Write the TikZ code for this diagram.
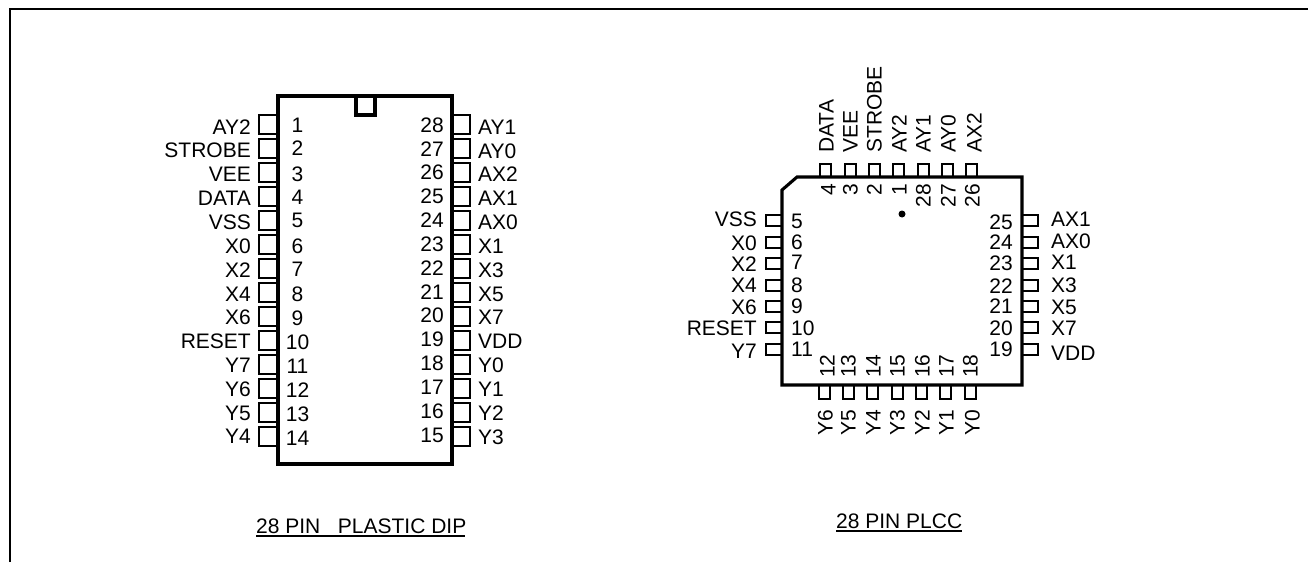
\documentclass[tikz,border=0pt]{standalone}
\usepackage{fontspec}
\setmainfont{Liberation Sans}
\tikzset{
    pkgbody/.style={line width=3.1pt, line join=miter},
    pinbox/.style={line width=2pt},
    pintext/.style={inner sep=0pt, text height=15pt, text depth=0pt, font=\fontsize{21}{23}\selectfont},
    pkgtitle/.style={pintext, anchor=base west},
}
\begin{document}
\begin{tikzpicture}[x=1pt, y=-1pt]
    \useasboundingbox (0,0) rectangle (1308,562);
    % frame
    \draw[line width=2.8pt] (10,562) -- (10,9) -- (1308,9);

    % plastic dip
    \foreach \i in {0,...,13} {
        \draw[pinbox] (259,115+24*\i) rectangle (278,134+24*\i);
        \draw[pinbox] (452,115+24*\i) rectangle (470,134+24*\i);
    }
    \draw[pkgbody] (278,96) rectangle (452,464);
    \draw[pkgbody] (356,96) -- (356,115) -- (375,115) -- (375,96);
    \foreach \y/\txt [count=\n] in {126.5/AY2, 150/STROBE, 174/VEE, 198/DATA, 222/VSS, 246/X0, 270/X2,
                                    294/X4, 317/X6, 341/RESET, 365/Y7, 389/Y6, 413/Y5, 436/Y4} {
        \node[pintext, anchor=east] (dipname\n) at (251,\y) {\txt};
    }
    \foreach \y [count=\n] in {125, 148, 174, 197, 220, 246, 269, 294, 318, 342, 366, 390, 414, 438} {
        \node[pintext] (dipnum\n) at (297.5,\y) {\n};
    }
    \foreach \y/\txt/\num in {127/AY1/28, 151/AY0/27, 174/AX2/26, 198/AX1/25, 222/AX0/24, 246/X1/23, 270/X3/22,
                              294/X5/21, 317/X7/20, 341/VDD/19, 365/Y0/18, 389/Y1/17, 413/Y2/16, 437/Y3/15} {
        \node[pintext, anchor=west] (dipname\num) at (478,\y) {\txt};
        \node[pintext, anchor=east] (dipnum\num) at (444,\y-2.5) {\num};
    }
    \node[pkgtitle] (diptitle) at (256,533) {28 PIN\ \ \ PLASTIC DIP};
    \draw[line width=2pt] (diptitle.base west) ++(0,2.5) -- ++(209,0);

    % plcc
    \foreach \x in {819.5,845,869,893,918,942,966} {
        \draw[pinbox] (\x,164) rectangle (\x+11,177);
    }
    \foreach \x in {818.5,843,867,891.5,916,940,965} {
        \draw[pinbox] (\x,385) rectangle (\x+11,399);
    }
    \foreach \y in {215,236.5,258,279.5,301,322,343.5} {
        \draw[pinbox] (766,\y) rectangle (782,\y+11);
        \draw[pinbox] (1022,\y) rectangle (1038,\y+11);
    }
    \draw[pkgbody] (797,177) -- (1022,177) -- (1022,385) -- (782,385) -- (782,190) -- cycle;
    \fill (902,214) circle (3.5);
    \foreach \x/\txt/\num/\nx in {826/DATA/4/828, 850/VEE/3/850, 874/STROBE/2/874, 899/AY2/1/899,
                                  923/AY1/28/923, 948/AY0/27/948, 974/AX2/26/972} {
        \node[pintext, rotate=90, anchor=west] (plccname\num) at (\x,153) {\txt};
        \node[pintext, rotate=90, anchor=east] (plccnum\num) at (\nx,184) {\num};
    }
    \foreach \x/\txt/\num/\nx in {825/Y6/12/827, 848/Y5/13/848, 873/Y4/14/873, 897/Y3/15/897,
                                  922/Y2/16/922, 946/Y1/17/946, 972/Y0/18/970} {
        \node[pintext, rotate=90, anchor=west] (plccname\num) at (\x,436) {\txt};
        \node[pintext, rotate=90, anchor=west] (plccnum\num) at (\nx,378) {\num};
    }
    \foreach \y/\txt/\num/\ny in {219/VSS/5/221, 243/X0/6/242, 264/X2/7/262, 285/X4/8/285,
                                  307/X6/9/306, 328/RESET/10/328, 351/Y7/11/349} {
        \node[pintext, anchor=east] (plccname\num) at (757,\y) {\txt};
        \node[pintext, anchor=west] (plccnum\num) at (791,\ny) {\num};
    }
    \foreach \y/\txt/\num/\ny in {219/AX1/25/222, 241/AX0/24/242, 262/X1/23/263, 285/X3/22/286,
                                  307/X5/21/306, 328/X7/20/328, 353/VDD/19/349} {
        \node[pintext, anchor=west] (plccname\num) at (1051,\y) {\txt};
        \node[pintext, anchor=east] (plccnum\num) at (1013,\ny) {\num};
    }
    \node[pkgtitle] (plcctitle) at (836,528) {28 PIN PLCC};
    \draw[line width=2pt] (plcctitle.base west) ++(0,2.5) -- ++(125.5,0);
\end{tikzpicture}
\end{document}
